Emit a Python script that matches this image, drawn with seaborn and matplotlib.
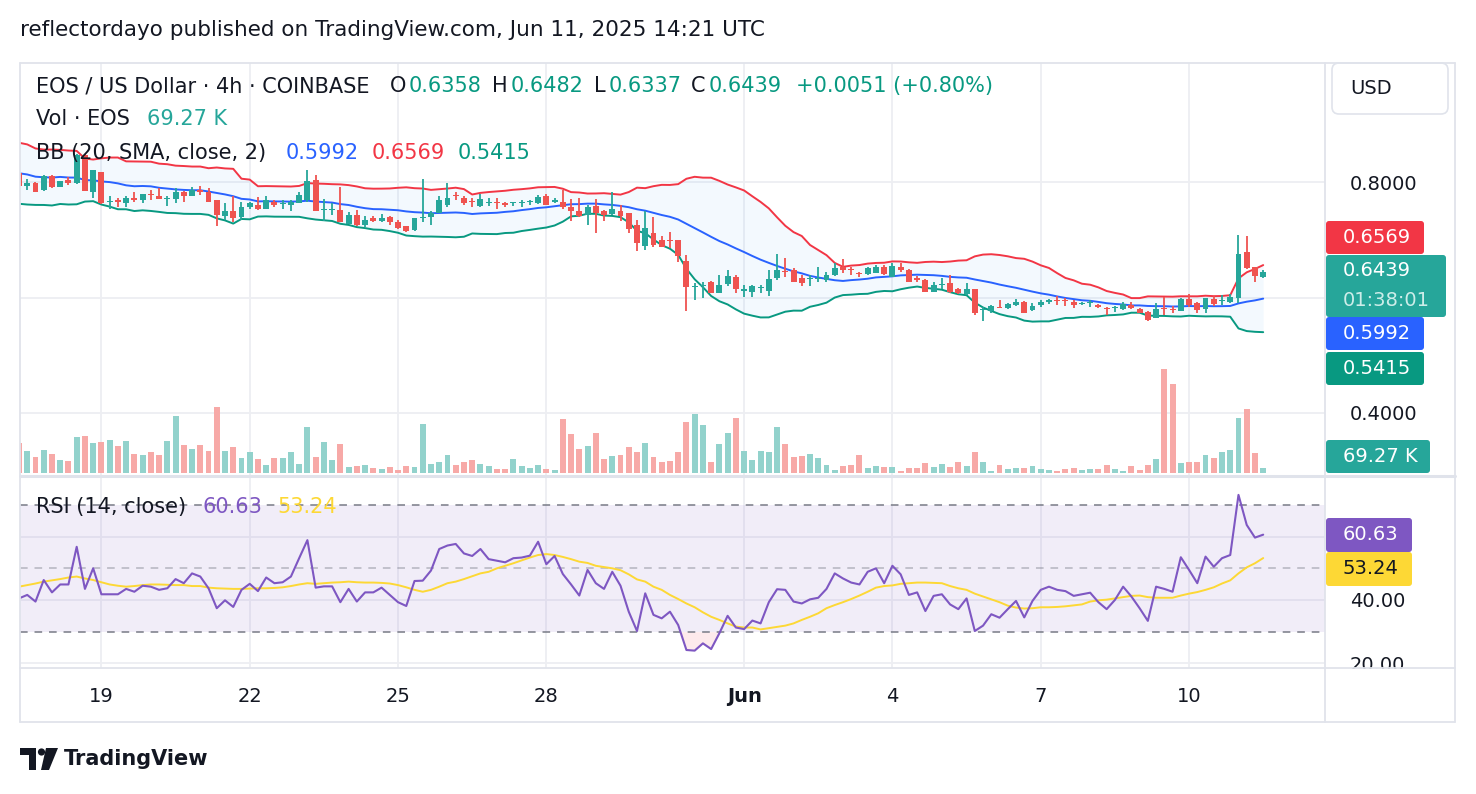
import numpy as np
import pandas as pd
import seaborn as sns
import matplotlib.pyplot as plt
from matplotlib.patches import FancyBboxPatch, Polygon, Circle

# EOS / USD, 4h bars, 17 May 08:00 -> 11 Jun 12:00 UTC
opens = [0.816, 0.793, 0.799, 0.786, 0.810, 0.792, 0.803, 0.798, 0.847, 0.783,
         0.817, 0.765, 0.769, 0.764, 0.773, 0.768, 0.780, 0.776, 0.771, 0.771,
         0.782, 0.775, 0.787, 0.783, 0.768, 0.741, 0.749, 0.740, 0.756, 0.761,
         0.754, 0.766, 0.762, 0.760, 0.764, 0.768, 0.803, 0.751, 0.751, 0.752,
         0.727, 0.743, 0.726, 0.737, 0.733, 0.740, 0.731, 0.723, 0.717, 0.737,
         0.740, 0.746, 0.760, 0.777, 0.772, 0.767, 0.758, 0.763, 0.765, 0.764,
         0.763, 0.764, 0.765, 0.763, 0.776, 0.766, 0.766, 0.756, 0.750, 0.743,
         0.758, 0.750, 0.745, 0.750, 0.746, 0.726, 0.689, 0.711, 0.699, 0.700,
         0.699, 0.663, 0.618, 0.620, 0.626, 0.608, 0.623, 0.636, 0.612, 0.610,
         0.616, 0.611, 0.633, 0.646, 0.648, 0.633, 0.632, 0.632, 0.630, 0.639,
         0.652, 0.649, 0.642, 0.641, 0.643, 0.653, 0.636, 0.653, 0.648, 0.634,
         0.631, 0.610, 0.622, 0.625, 0.614, 0.606, 0.614, 0.578, 0.576, 0.584,
         0.581, 0.587, 0.593, 0.578, 0.587, 0.593, 0.596, 0.596, 0.593, 0.589,
         0.590, 0.587, 0.582, 0.582, 0.580, 0.587, 0.580, 0.575, 0.564, 0.582,
         0.580, 0.576, 0.597, 0.590, 0.580, 0.597, 0.594, 0.593, 0.600, 0.679,
         0.652, 0.6358]
highs = [0.818, 0.806, 0.800, 0.812, 0.812, 0.802, 0.809, 0.849, 0.849, 0.821,
         0.818, 0.775, 0.772, 0.775, 0.783, 0.780, 0.786, 0.790, 0.775, 0.789,
         0.784, 0.791, 0.793, 0.789, 0.768, 0.763, 0.775, 0.766, 0.766, 0.774,
         0.775, 0.769, 0.768, 0.769, 0.782, 0.821, 0.812, 0.770, 0.763, 0.791,
         0.748, 0.752, 0.741, 0.741, 0.744, 0.741, 0.734, 0.723, 0.737, 0.806,
         0.750, 0.775, 0.798, 0.783, 0.776, 0.772, 0.780, 0.773, 0.772, 0.766,
         0.766, 0.769, 0.769, 0.778, 0.779, 0.772, 0.786, 0.770, 0.772, 0.760,
         0.770, 0.752, 0.782, 0.760, 0.746, 0.734, 0.750, 0.740, 0.707, 0.714,
         0.699, 0.674, 0.625, 0.626, 0.629, 0.639, 0.647, 0.639, 0.622, 0.622,
         0.622, 0.648, 0.675, 0.668, 0.651, 0.639, 0.639, 0.652, 0.645, 0.659,
         0.666, 0.653, 0.645, 0.653, 0.656, 0.656, 0.660, 0.659, 0.649, 0.637,
         0.632, 0.627, 0.633, 0.639, 0.616, 0.625, 0.614, 0.584, 0.587, 0.596,
         0.590, 0.597, 0.594, 0.590, 0.595, 0.597, 0.603, 0.599, 0.595, 0.593,
         0.595, 0.588, 0.583, 0.585, 0.593, 0.593, 0.581, 0.577, 0.590, 0.601,
         0.585, 0.600, 0.606, 0.593, 0.599, 0.603, 0.604, 0.606, 0.708, 0.707,
         0.652, 0.6482]
lows = [0.792, 0.787, 0.782, 0.785, 0.790, 0.791, 0.795, 0.796, 0.784, 0.773,
        0.762, 0.754, 0.757, 0.756, 0.766, 0.763, 0.769, 0.770, 0.759, 0.764,
        0.765, 0.775, 0.777, 0.765, 0.723, 0.734, 0.731, 0.734, 0.753, 0.752,
        0.753, 0.756, 0.753, 0.749, 0.763, 0.766, 0.749, 0.733, 0.743, 0.730,
        0.727, 0.724, 0.722, 0.731, 0.731, 0.726, 0.718, 0.714, 0.716, 0.731,
        0.726, 0.746, 0.757, 0.769, 0.760, 0.757, 0.757, 0.758, 0.754, 0.757,
        0.758, 0.756, 0.760, 0.762, 0.761, 0.763, 0.753, 0.733, 0.740, 0.726,
        0.711, 0.733, 0.743, 0.733, 0.711, 0.681, 0.683, 0.688, 0.687, 0.685,
        0.662, 0.577, 0.595, 0.600, 0.607, 0.608, 0.620, 0.607, 0.601, 0.601,
        0.608, 0.603, 0.630, 0.636, 0.627, 0.620, 0.620, 0.626, 0.626, 0.637,
        0.642, 0.639, 0.635, 0.639, 0.642, 0.639, 0.636, 0.645, 0.626, 0.626,
        0.609, 0.610, 0.614, 0.608, 0.606, 0.604, 0.570, 0.560, 0.574, 0.581,
        0.580, 0.585, 0.573, 0.577, 0.583, 0.589, 0.587, 0.585, 0.581, 0.587,
        0.584, 0.581, 0.570, 0.575, 0.578, 0.580, 0.573, 0.560, 0.564, 0.570,
        0.573, 0.576, 0.584, 0.574, 0.574, 0.585, 0.587, 0.591, 0.591, 0.649,
        0.626, 0.6337]
closes = [0.793, 0.798, 0.783, 0.810, 0.791, 0.801, 0.799, 0.847, 0.785, 0.820,
          0.763, 0.767, 0.765, 0.773, 0.768, 0.779, 0.778, 0.770, 0.772, 0.782,
          0.775, 0.787, 0.783, 0.765, 0.742, 0.750, 0.737, 0.756, 0.763, 0.753,
          0.769, 0.760, 0.764, 0.766, 0.778, 0.802, 0.749, 0.753, 0.753, 0.730,
          0.743, 0.726, 0.734, 0.733, 0.738, 0.731, 0.720, 0.716, 0.737, 0.739,
          0.747, 0.768, 0.772, 0.775, 0.763, 0.765, 0.770, 0.765, 0.763, 0.760,
          0.765, 0.766, 0.767, 0.774, 0.761, 0.768, 0.756, 0.749, 0.741, 0.756,
          0.746, 0.743, 0.753, 0.741, 0.718, 0.694, 0.721, 0.691, 0.687, 0.697,
          0.672, 0.618, 0.620, 0.622, 0.608, 0.622, 0.637, 0.614, 0.614, 0.620,
          0.618, 0.632, 0.647, 0.644, 0.627, 0.625, 0.634, 0.634, 0.639, 0.651,
          0.647, 0.647, 0.640, 0.651, 0.653, 0.641, 0.655, 0.647, 0.627, 0.631,
          0.610, 0.622, 0.624, 0.610, 0.607, 0.614, 0.574, 0.580, 0.586, 0.582,
          0.589, 0.593, 0.574, 0.585, 0.593, 0.595, 0.594, 0.594, 0.587, 0.591,
          0.592, 0.583, 0.580, 0.584, 0.589, 0.581, 0.574, 0.561, 0.580, 0.580,
          0.578, 0.597, 0.587, 0.578, 0.599, 0.589, 0.596, 0.601, 0.675, 0.651,
          0.637, 0.6439]
# volume in thousands of EOS
volume_k = [416, 310, 231, 323, 268, 185, 171, 504, 517, 420,
            434, 462, 379, 448, 268, 254, 296, 254, 448, 795,
            393, 337, 393, 310, 919, 310, 365, 213, 296, 199,
            116, 213, 213, 296, 129, 642, 226, 434, 185, 407,
            88, 102, 116, 74, 60, 88, 46, 102, 88, 684,
            129, 157, 254, 116, 157, 185, 129, 102, 60, 60,
            199, 102, 74, 116, 60, 46, 753, 545, 337, 379,
            559, 199, 240, 254, 365, 296, 420, 226, 157, 171,
            296, 711, 822, 670, 157, 407, 559, 767, 310, 185,
            310, 296, 642, 407, 226, 240, 268, 213, 116, 46,
            102, 116, 254, 74, 102, 88, 88, 32, 74, 74,
            143, 88, 129, 88, 157, 102, 296, 157, 32, 116,
            60, 74, 74, 102, 60, 46, 32, 60, 74, 46,
            60, 60, 116, 60, 32, 102, 46, 116, 199, 1446,
            1238, 143, 157, 157, 254, 213, 296, 323, 767, 892,
            282, 69.27]
rsi = [40.5, 41.6, 39.5, 46.3, 42.4, 44.9, 44.9, 56.8, 43.5, 50.0,
       41.8, 41.8, 41.8, 43.5, 42.6, 44.5, 44.2, 43.2, 43.7, 46.6,
       45.3, 48.4, 47.4, 43.7, 37.4, 39.9, 37.8, 43.2, 45.1, 42.8,
       47.1, 45.3, 45.6, 47.4, 53.2, 58.9, 43.9, 44.3, 44.3, 39.3,
       43.5, 39.5, 42.4, 42.4, 43.9, 41.6, 39.3, 38.1, 46.0, 46.1,
       49.3, 56.1, 57.2, 57.7, 54.7, 53.9, 56.1, 52.9, 52.4, 51.9,
       53.2, 53.4, 54.0, 58.4, 51.3, 53.9, 48.2, 44.9, 41.4, 49.5,
       45.3, 43.5, 48.9, 44.5, 36.3, 30.2, 42.1, 35.3, 34.2, 36.3,
       32.1, 24.2, 24.0, 26.3, 24.5, 29.5, 35.0, 31.3, 30.8, 33.5,
       32.6, 39.3, 43.4, 43.2, 39.5, 38.9, 40.2, 40.7, 43.5, 48.4,
       46.8, 45.5, 44.9, 48.9, 50.0, 45.3, 50.8, 48.1, 41.6, 42.4,
       36.5, 41.3, 41.8, 38.6, 37.1, 40.5, 30.2, 31.9, 35.5, 34.4,
       37.1, 39.7, 34.5, 39.7, 43.2, 44.2, 43.2, 42.8, 41.3, 41.8,
       42.3, 39.3, 37.1, 40.0, 44.2, 41.1, 37.4, 33.4, 44.2, 43.5,
       42.6, 53.5, 49.5, 45.3, 53.7, 50.5, 53.2, 54.2, 73.2, 63.7,
       59.7, 60.63]
rsi_ma = [44.2, 44.7, 45.2, 45.8, 46.2, 46.6, 47.1, 47.4, 46.8, 46.3,
          45.6, 44.9, 44.5, 44.2, 44.4, 44.7, 44.9, 44.9, 44.8, 44.7,
          44.7, 44.4, 44.4, 43.9, 43.7, 43.6, 43.5, 43.5, 43.6, 43.7,
          43.7, 43.8, 44.0, 44.4, 44.9, 45.3, 45.1, 45.3, 45.5, 45.6,
          45.8, 45.6, 45.5, 45.5, 45.4, 45.2, 44.7, 44.0, 43.2, 42.6,
          43.2, 44.2, 45.3, 45.8, 46.6, 47.5, 48.4, 48.9, 50.0, 50.8,
          51.6, 52.5, 53.4, 54.2, 54.5, 54.2, 53.6, 52.9, 52.1, 51.7,
          50.8, 50.4, 50.0, 49.4, 48.1, 46.5, 45.8, 44.2, 43.2, 41.6,
          40.3, 38.9, 37.7, 36.1, 34.7, 33.7, 32.6, 31.6, 31.3, 31.3,
          30.7, 31.1, 31.5, 31.9, 32.6, 33.7, 34.7, 35.8, 37.4, 38.4,
          39.3, 40.3, 41.4, 42.6, 43.9, 44.4, 44.6, 45.1, 45.3, 45.5,
          45.5, 45.4, 45.3, 44.4, 43.7, 43.2, 42.0, 41.1, 40.2, 39.3,
          38.2, 37.6, 37.3, 37.4, 37.7, 37.7, 37.8, 38.0, 38.3, 38.6,
          39.5, 39.9, 40.1, 40.5, 40.9, 41.3, 41.4, 40.9, 40.7, 40.7,
          40.7, 41.4, 42.0, 42.5, 43.2, 44.0, 45.2, 46.2, 48.4, 50.3,
          51.6, 53.24]
# 19 closes before the first visible bar, only used to warm up BB(20)
warmup_closes = [0.84, 0.86, 0.83, 0.80, 0.78, 0.82, 0.85, 0.87, 0.83, 0.80,
                 0.79, 0.81, 0.84, 0.80, 0.77, 0.79, 0.82, 0.80, 0.81]
day_ticks = [10, 28, 46, 64, 88, 106, 124, 142]
day_labels = ['19', '22', '25', '28', 'Jun', '4', '7', '10']

df = pd.DataFrame({'open': opens, 'high': highs, 'low': lows, 'close': closes,
                   'volume': volume_k, 'rsi': rsi, 'rsi_ma': rsi_ma})
df['bar'] = np.arange(len(df))

# Bollinger Bands (20, SMA, close, 2)
allc = pd.Series(warmup_closes + closes)
basis = allc.rolling(20).mean()
dev = 2 * allc.rolling(20).std(ddof=0)
n0 = len(warmup_closes)
df['bb_mid'] = basis.iloc[n0:].to_numpy()
df['bb_up'] = (basis + dev).iloc[n0:].to_numpy()
df['bb_lo'] = (basis - dev).iloc[n0:].to_numpy()

up = df.close >= df.open
cols = np.where(up, '#26A69A', '#EF5350')
vcols = np.where(up, '#92D2CC', '#F7A9A7')

sns.set_style('white')
plt.rcParams['font.family'] = ['DejaVu Sans']
INK = '#131722'
GRID = '#EDEEF2'
FRAME = '#E0E3EB'

W, H = 1476, 794
fig = plt.figure(figsize=(W / 100, H / 100), dpi=100)


def box(x0, y0, x1, y1):
    return [x0 / W, 1 - y1 / H, (x1 - x0) / W, (y1 - y0) / H]


ax_p = fig.add_axes(box(20, 63, 1325, 475))
ax_v = fig.add_axes(box(20, 63, 1325, 475), sharex=ax_p)
ax_r = fig.add_axes(box(20, 476, 1325, 668), sharex=ax_p)

# ---- price pane ----
ax_p.fill_between(df.bar, df.bb_lo, df.bb_up, color='#2196F3', alpha=0.05, lw=0)
sns.lineplot(data=df, x='bar', y='bb_up', color='#F23645', lw=1.4, ax=ax_p)
sns.lineplot(data=df, x='bar', y='bb_mid', color='#2962FF', lw=1.4, ax=ax_p)
sns.lineplot(data=df, x='bar', y='bb_lo', color='#089981', lw=1.4, ax=ax_p)
ax_p.vlines(df.bar, df.low, df.high, colors=cols, lw=1.3, zorder=3)
body_lo = np.minimum(df.open, df.close)
body_h = np.maximum((df.close - df.open).abs(), 0.0018)
ax_p.bar(df.bar, body_h, bottom=body_lo, width=0.72, color=cols, lw=0, zorder=4)

ax_p.set_xlim(0.12, 158.5)
ax_p.set_ylim(0.8 - 293 / 577.5, 0.8 + 119 / 577.5)
ax_p.set_yticks([0.4, 0.6, 0.8])
ax_p.set_yticklabels(['0.4000', '', '0.8000'])
ax_p.yaxis.tick_right()
ax_p.tick_params(axis='y', length=0, pad=18, labelsize=14, labelcolor=INK)
ax_p.set_xticks(day_ticks)
ax_p.tick_params(axis='x', length=0, labelbottom=False)
ax_p.grid(True, color=GRID, lw=1.3)
ax_p.set_xlabel('')
ax_p.set_ylabel('')

# ---- volume overlay ----
ax_v.patch.set_visible(False)
ax_v.bar(df.bar, df.volume, width=0.72, color=vcols, lw=0)
ax_v.set_ylim(-24, 5687)
ax_v.axis('off')

# ---- RSI pane ----
ax_r.axhspan(30, 70, color='#7E57C2', alpha=0.1, lw=0)
for lvl, a in [(70, 1.0), (50, 0.5), (30, 1.0)]:
    ax_r.axhline(lvl, color='#787B86', alpha=a, lw=1.1, dashes=(5, 4.5))
ax_r.fill_between(df.bar, df.rsi, 30, where=df.rsi < 30, interpolate=True,
                  color='#F23645', alpha=0.10, lw=0)
sns.lineplot(data=df, x='bar', y='rsi_ma', color='#FDD835', lw=1.4, ax=ax_r)
sns.lineplot(data=df, x='bar', y='rsi', color='#7E57C2', lw=1.5, ax=ax_r)
ax_r.set_ylim(70 - 163 / 3.166, 70 + 29 / 3.166)
ax_r.set_yticks([20, 40, 60])
ax_r.set_yticklabels(['20.00', '40.00', ''])
ax_r.yaxis.tick_right()
ax_r.tick_params(axis='y', length=0, pad=18, labelsize=14, labelcolor=INK)
ax_r.set_xticks(day_ticks)
ax_r.set_xticklabels(day_labels)
ax_r.tick_params(axis='x', length=0, pad=14, labelsize=14, labelcolor=INK)
ax_r.get_xticklabels()[4].set_fontweight('bold')
ax_r.grid(True, color=GRID, lw=1.3)
ax_r.set_xlabel('')
ax_r.set_ylabel('')

for ax in (ax_p, ax_r):
    for s in ax.spines.values():
        s.set_visible(False)

# ---- overlay in pixel space: frame, legends, price badges ----
ax_o = fig.add_axes([0, 0, 1, 1], zorder=10)
ax_o.set_xlim(0, W)
ax_o.set_ylim(H, 0)
ax_o.axis('off')
ax_o.patch.set_visible(False)

ax_o.add_patch(plt.Rectangle((1326, 669), 129, 52, color='white', lw=0))
for y in (63, 668, 722):
    ax_o.plot([20, 1455], [y, y], color=FRAME, lw=1.3)
ax_o.plot([20, 1455], [475.5, 475.5], color=FRAME, lw=2.2)
for x in (20, 1325, 1455):
    ax_o.plot([x, x], [63, 722], color=FRAME, lw=1.3)


def txt(x, y, s, color=INK, size=15, **kw):
    ax_o.text(x, y, s, color=color, fontsize=size, ha='left', va='center', **kw)


def badge(y0, y1, x1, color, label, tcolor='white'):
    ax_o.add_patch(FancyBboxPatch((1326, y0), x1 - 1326, y1 - y0,
                                  boxstyle='round,pad=0,rounding_size=3',
                                  fc=color, ec='none'))
    txt(1343, (y0 + y1) / 2, label, color=tcolor, size=14)


txt(20, 30, 'reflectordayo published on TradingView.com, Jun 11, 2025 14:21 UTC', size=15.5)

UPC = '#089981'
txt(36, 86, 'EOS / US Dollar · 4h · COINBASE')
for x, s, c in [(390, 'O', INK), (409, '0.6358', UPC), (492, 'H', INK), (511, '0.6482', UPC),
                (594, 'L', INK), (609, '0.6337', UPC), (691, 'C', INK), (709, '0.6439', UPC),
                (796, '+0.0051 (+0.80%)', UPC)]:
    txt(x, 86, s, color=c)
txt(36, 119, 'Vol · EOS')
txt(147, 119, '69.27 K', color='#26A69A')
txt(36, 153, 'BB (20, SMA, close, 2)')
txt(286, 153, '0.5992', color='#2962FF')
txt(372, 153, '0.6569', color='#F23645')
txt(458, 153, '0.5415', color=UPC)
txt(36, 507, 'RSI (14, close)')
txt(203, 507, '60.63', color='#7E57C2')
txt(277, 507, '53.24', color='#FDD835')

ax_o.add_patch(FancyBboxPatch((1332, 63), 116, 51, boxstyle='round,pad=0,rounding_size=7',
                              fc='white', ec=FRAME, lw=1.2))
txt(1350, 88, 'USD', size=14)

badge(221, 254, 1424, '#F23645', '0.6569')
ax_o.add_patch(FancyBboxPatch((1326, 255), 120, 62, boxstyle='round,pad=0,rounding_size=3',
                              fc='#26A69A', ec='none'))
txt(1343, 271, '0.6439', color='white', size=14)
txt(1343, 300, '01:38:01', color='#CDEDE9', size=14)
badge(317, 350, 1424, '#2962FF', '0.5992')
badge(352, 385, 1424, '#089981', '0.5415')
badge(440, 473, 1430, '#26A69A', '69.27 K')
badge(518, 552, 1412, '#7E57C2', '60.63')
badge(552, 586, 1412, '#FDD835', '53.24', tcolor=INK)

# TradingView logo
ax_o.add_patch(Polygon([(20, 748), (36, 748), (36, 770), (29, 770), (29, 755), (20, 755)],
                       closed=True, fc=INK, ec='none'))
ax_o.add_patch(Circle((41.5, 752), 3.6, fc=INK, ec='none'))
ax_o.add_patch(Polygon([(46, 748), (58, 748), (49, 770), (41, 770)], closed=True, fc=INK, ec='none'))
txt(64, 759, 'TradingView', size=15, weight='bold')

fig.savefig('out.png', dpi=100)
